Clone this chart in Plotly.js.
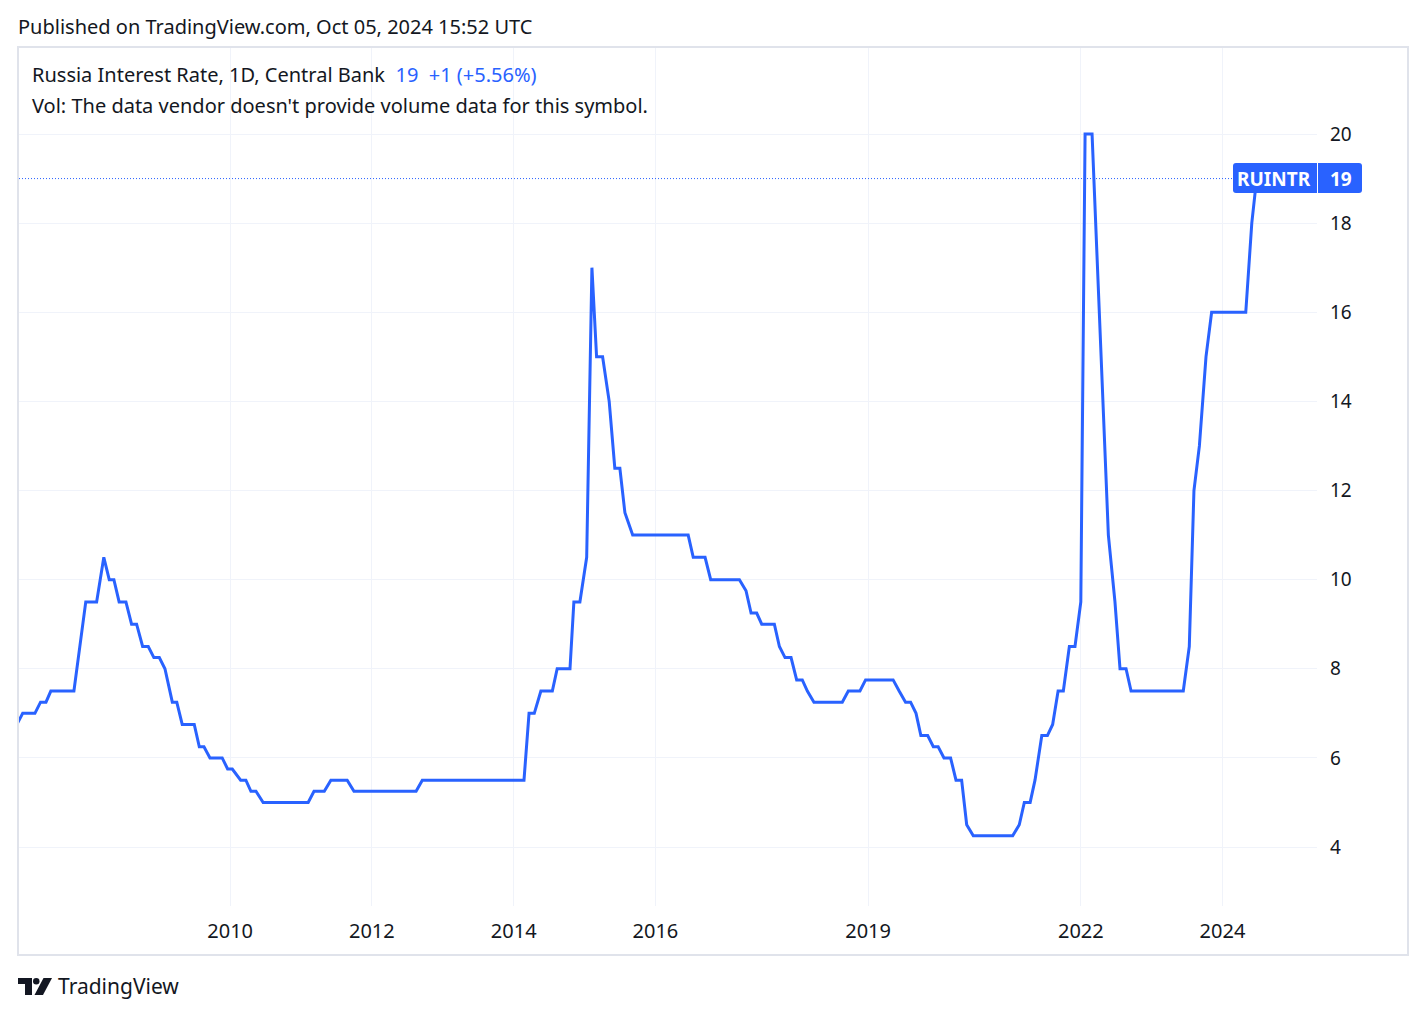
<!DOCTYPE html>
<html>
<head>
<meta charset="utf-8">
<script src="https://cdn.plot.ly/plotly-3.0.1.min.js"></script>
<style>
  html, body { margin: 0; padding: 0; background: #ffffff; }
  #chart { width: 1426px; height: 1016px; }
</style>
</head>
<body>
<div id="chart"></div>
<script>
// ---- Data ----
// Time of each vertex of the line, as a decimal year
const dateYears = [
  2006.994, 2007.074, 2007.248, 2007.328, 2007.403, 2007.473, 2007.798, 2007.882, 2007.967, 2008.118,
  2008.221, 2008.296, 2008.362, 2008.437, 2008.531, 2008.612, 2008.682, 2008.767, 2008.846, 2008.926,
  2009.001, 2009.082, 2009.185, 2009.247, 2009.326, 2009.495, 2009.566, 2009.632, 2009.716, 2009.890,
  2009.966, 2010.031, 2010.150, 2010.224, 2010.295, 2010.365, 2010.468, 2011.103, 2011.184, 2011.329,
  2011.424, 2011.654, 2011.748, 2012.623, 2012.712, 2014.146, 2014.217, 2014.292, 2014.386, 2014.546,
  2014.616, 2014.795, 2014.852, 2014.936, 2015.031, 2015.106, 2015.172, 2015.257, 2015.350, 2015.430,
  2015.501, 2015.571, 2015.680, 2016.464, 2016.535, 2016.700, 2016.780, 2017.184, 2017.278, 2017.349,
  2017.429, 2017.500, 2017.678, 2017.748, 2017.829, 2017.913, 2017.994, 2018.073, 2018.143, 2018.238,
  2018.637, 2018.722, 2018.887, 2018.967, 2019.356, 2019.441, 2019.531, 2019.602, 2019.677, 2019.747,
  2019.842, 2019.921, 2019.991, 2020.072, 2020.166, 2020.241, 2020.321, 2020.392, 2020.485, 2021.041,
  2021.134, 2021.205, 2021.285, 2021.356, 2021.450, 2021.529, 2021.605, 2021.680, 2021.755, 2021.839,
  2021.920, 2022.000, 2022.061, 2022.160, 2022.390, 2022.484, 2022.555, 2022.639, 2022.710, 2023.448,
  2023.532, 2023.599, 2023.674, 2023.768, 2023.848, 2024.328, 2024.413, 2024.483
];
// Interest rate, %
const rateValues = [
  6.75, 7, 7, 7.25, 7.25, 7.5, 7.5, 8.5, 9.5, 9.5,
  10.5, 10, 10, 9.5, 9.5, 9, 9, 8.5, 8.5, 8.25,
  8.25, 8, 7.25, 7.25, 6.75, 6.75, 6.25, 6.25, 6, 6,
  5.75, 5.75, 5.5, 5.5, 5.25, 5.25, 5, 5, 5.25, 5.25,
  5.5, 5.5, 5.25, 5.25, 5.5, 5.5, 7, 7, 7.5, 7.5,
  8, 8, 9.5, 9.5, 10.5, 17, 15, 15, 14, 12.5,
  12.5, 11.5, 11, 11, 10.5, 10.5, 10, 10, 9.75, 9.25,
  9.25, 9, 9, 8.5, 8.25, 8.25, 7.75, 7.75, 7.5, 7.25,
  7.25, 7.5, 7.5, 7.75, 7.75, 7.5, 7.25, 7.25, 7, 6.5,
  6.5, 6.25, 6.25, 6, 6, 5.5, 5.5, 4.5, 4.25, 4.25,
  4.5, 5, 5, 5.5, 6.5, 6.5, 6.75, 7.5, 7.5, 8.5,
  8.5, 9.5, 20, 20, 11, 9.5, 8, 8, 7.5, 7.5,
  8.5, 12, 13, 15, 16, 16, 18, 19
];
const xTickYears = [2010, 2012, 2014, 2016, 2019, 2022, 2024];
const yTickValues = [4, 6, 8, 10, 12, 14, 16, 18, 20];
const symbolName = "RUINTR";
const lastValue = 19;
const changeText = "+1 (+5.56%)";
const titleText = "Russia Interest Rate, 1D, Central Bank";
const volText = "Vol: The data vendor doesn't provide volume data for this symbol.";
const publishedText = "Published on TradingView.com, Oct 05, 2024 15:52 UTC";

// ---- helpers ----
function decYearToISO(d) {
  const y = Math.floor(d);
  const s = Date.UTC(y, 0, 1), e = Date.UTC(y + 1, 0, 1);
  return new Date(s + (d - y) * (e - s)).toISOString().slice(0, 10);
}
const xDates = dateYears.map(decYearToISO);

const W = 1426, H = 1016;
const L = 19, R = 1317, T = 48, B = 906;
const PW = R - L, PH = B - T;
const fx = x => (x - L) / PW;
const fy = y => (B - y) / PH;

const BLUE = '#2962ff';
const TXT = '#131722';
const FONT = '"Noto Sans", Roboto, sans-serif';

const trace = {
  type: 'scatter',
  mode: 'lines',
  x: xDates,
  y: rateValues,
  line: { color: BLUE, width: 3, shape: 'linear' },
  hoverinfo: 'skip',
  cliponaxis: true
};

function rr(x0, y0, x1, y1, r) {
  const p = (x, y) => fx(x) + ',' + fy(y);
  return 'M' + p(x0 + r, y0) + ' L' + p(x1 - r, y0) + ' Q' + p(x1, y0) + ' ' + p(x1, y0 + r) +
    ' L' + p(x1, y1 - r) + ' Q' + p(x1, y1) + ' ' + p(x1 - r, y1) +
    ' L' + p(x0 + r, y1) + ' Q' + p(x0, y1) + ' ' + p(x0, y1 - r) +
    ' L' + p(x0, y0 + r) + ' Q' + p(x0, y0) + ' ' + p(x0 + r, y0) + ' Z';
}
function poly(pts) {
  return 'M' + pts.map(([x, y]) => fx(x) + ',' + fy(y)).join(' L') + ' Z';
}

const shapes = [
  { type: 'rect', xref: 'paper', yref: 'paper', x0: fx(18), x1: fx(1408), y0: fy(955), y1: fy(47),
    line: { color: '#e0e3eb', width: 2 }, fillcolor: 'rgba(0,0,0,0)', layer: 'below' },
  { type: 'line', xref: 'paper', yref: 'y', x0: 0, x1: fx(1233), y0: lastValue, y1: lastValue,
    line: { color: BLUE, width: 1, dash: '1px,2px' } },
  { type: 'path', xref: 'paper', yref: 'paper', path: rr(1233, 163, 1362, 193, 3),
    fillcolor: BLUE, line: { width: 0 }, layer: 'above' },
  { type: 'line', xref: 'paper', yref: 'paper', x0: fx(1317.5), x1: fx(1317.5), y0: fy(163), y1: fy(193),
    line: { color: '#ffffff', width: 1 }, layer: 'above' },
  { type: 'path', xref: 'paper', yref: 'paper',
    path: poly([[18, 978], [32, 978], [32, 995], [25, 995], [25, 984], [18, 984]]),
    fillcolor: TXT, line: { width: 0 } },
  { type: 'circle', xref: 'paper', yref: 'paper', x0: fx(33), x1: fx(39.5), y0: fy(984.5), y1: fy(978),
    fillcolor: TXT, line: { width: 0 } },
  { type: 'path', xref: 'paper', yref: 'paper',
    path: poly([[43.5, 978], [52, 978], [43, 995], [34.5, 995]]),
    fillcolor: TXT, line: { width: 0 } }
];

const annotations = [
  { xref: 'paper', yref: 'paper', x: fx(16), y: fy(26), xanchor: 'left', yanchor: 'middle',
    text: publishedText, showarrow: false, font: { family: FONT, size: 20, color: TXT } },
  { xref: 'paper', yref: 'paper', x: fx(30), y: fy(75), xanchor: 'left', yanchor: 'middle',
    text: titleText + '&nbsp;&nbsp;<span style="color:' + BLUE + '">' + lastValue + '&nbsp;&nbsp;' + changeText + '</span>',
    showarrow: false, font: { family: FONT, size: 20, color: TXT } },
  { xref: 'paper', yref: 'paper', x: fx(30), y: fy(105), xanchor: 'left', yanchor: 'middle',
    text: volText, showarrow: false, font: { family: FONT, size: 20, color: TXT } },
  { xref: 'paper', yref: 'paper', x: fx(1274), y: fy(178.5), xanchor: 'center', yanchor: 'middle',
    text: '<b>' + symbolName + '</b>', showarrow: false, font: { family: FONT, size: 19, color: '#ffffff' } },
  { xref: 'paper', yref: 'paper', x: fx(1341), y: fy(178.5), xanchor: 'center', yanchor: 'middle',
    text: '<b>' + lastValue + '</b>', showarrow: false, font: { family: FONT, size: 19, color: '#ffffff' } },
  { xref: 'paper', yref: 'paper', x: fx(56), y: fy(986), xanchor: 'left', yanchor: 'middle',
    text: 'TradingView', showarrow: false, font: { family: FONT, size: 21, color: TXT } }
];

const layout = {
  width: W, height: H,
  margin: { l: L, r: W - R, t: T, b: H - B, pad: 0 },
  paper_bgcolor: '#ffffff',
  plot_bgcolor: '#ffffff',
  showlegend: false,
  font: { family: FONT, color: TXT },
  xaxis: {
    type: 'date',
    range: [decYearToISO(2007.022), decYearToISO(2025.334)],
    tickmode: 'array',
    tickvals: xTickYears.map(y => y + '-01-01'),
    ticktext: xTickYears.map(String),
    showgrid: true, gridcolor: '#f0f3fa', gridwidth: 1,
    zeroline: false, showline: false, ticks: '',
    ticklabelstandoff: 11,
    tickfont: { family: FONT, size: 20, color: TXT },
    fixedrange: true
  },
  yaxis: {
    side: 'right',
    range: [2.676, 21.93],
    tickmode: 'array',
    tickvals: yTickValues,
    ticktext: yTickValues.map(String),
    showgrid: true, gridcolor: '#f0f3fa', gridwidth: 1,
    zeroline: false, showline: false, ticks: '',
    ticklabelstandoff: 12,
    tickfont: { family: FONT, size: 19, color: TXT },
    fixedrange: true
  },
  shapes: shapes,
  annotations: annotations
};

Plotly.newPlot('chart', [trace], layout, { staticPlot: true, displayModeBar: false });
</script>
</body>
</html>
